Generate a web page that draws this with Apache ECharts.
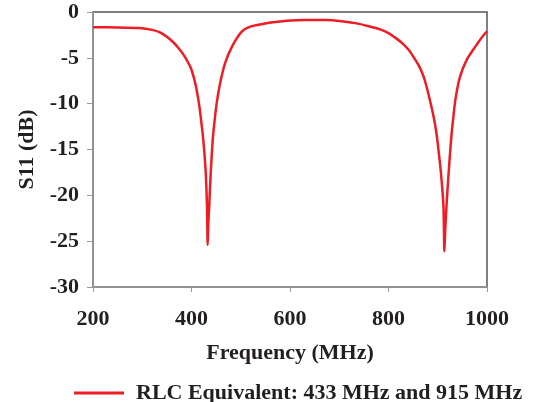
<!DOCTYPE html>
<html><head><meta charset="utf-8">
<script src="https://cdn.jsdelivr.net/npm/echarts@6/dist/echarts.min.js"></script>
<style>html,body{margin:0;padding:0;background:#fff}#c{width:544px;height:402px}</style>
</head><body><div id="c"></div>
<script>
var freqMHz = [200,250,295,320,336,350,363,373,383,392,400,409,416,421,424,426.5,429,431.5,432.8,434,436,439,443,446,451,458,468,482,502,519,545,570,593,630,674,705,735,760,783,800,815,830,842,852,861,868,874,884,893,898,902,906.6,911.6,913.5,915,917.7,922,927,931,936,945,959,976,989,1000];
var s11dB = [-1.67,-1.68,-1.75,-1.95,-2.22,-2.7,-3.3,-3.9,-4.6,-5.4,-6.3,-8.1,-10.3,-12.5,-14.0,-15.6,-17.6,-21.2,-25.4,-23.3,-21.2,-17.6,-14.0,-12.3,-10.0,-7.8,-5.6,-3.8,-2.15,-1.6,-1.3,-1.1,-0.95,-0.87,-0.87,-1.0,-1.24,-1.55,-1.9,-2.3,-2.85,-3.5,-4.2,-5.0,-5.8,-6.6,-7.5,-9.6,-11.8,-13.5,-15.3,-17.6,-21.2,-26.1,-24.0,-21.2,-17.6,-14.0,-11.8,-9.5,-7.1,-5.2,-3.8,-2.8,-2.1];
var xTicks = [200,400,600,800,1000];
var seriesName = 'RLC Equivalent: 433 MHz and 915 MHz';
var xTitle = 'Frequency (MHz)';
var yTitle = 'S11 (dB)';

var font = 'Liberation Serif';
var txt = {fontFamily: font, fontWeight: 'bold', fontSize: 22, color: '#231f20'};
var data = freqMHz.map(function(f, i){ return [f, s11dB[i]]; });
var chart = echarts.init(document.getElementById('c'));
chart.setOption({
  animation: false,
  grid: {left: 93, right: 57, top: 12, bottom: 115, show: true, borderColor: '#555', borderWidth: 1.5},
  legend: {
    left: 74, top: 382, padding: 0, icon: 'rect', itemWidth: 50, itemHeight: 3, itemGap: 10,
    textStyle: Object.assign({}, txt, {padding: [0,0,0,7]}),
    data: [seriesName]
  },
  xAxis: {
    type: 'value', min: xTicks[0], max: xTicks[xTicks.length-1], interval: xTicks[1]-xTicks[0],
    name: xTitle, nameLocation: 'middle', nameGap: 55, nameTextStyle: txt,
    axisLine: {onZero: false, lineStyle: {color: '#999', width: 1.5}},
    axisTick: {show: true, length: 5, lineStyle: {color: '#999'}},
    axisLabel: Object.assign({}, txt, {margin: 21, formatter: function(v){ return String(v); }}),
    splitLine: {show: false}
  },
  yAxis: {
    type: 'value', min: -30, max: 0, interval: 5,
    name: yTitle, nameLocation: 'middle', nameGap: 53, nameTextStyle: txt,
    axisLine: {show: true, lineStyle: {color: '#999', width: 1.5}},
    axisTick: {show: true, length: 6, lineStyle: {color: '#999'}},
    axisLabel: Object.assign({}, txt, {margin: 14}),
    splitLine: {show: false}
  },
  series: [{
    name: seriesName, type: 'line', data: data, showSymbol: false, smooth: 0.25,
    lineStyle: {color: '#ee1c24', width: 2.5}, itemStyle: {color: '#ee1c24'}
  }]
});
</script></body></html>
